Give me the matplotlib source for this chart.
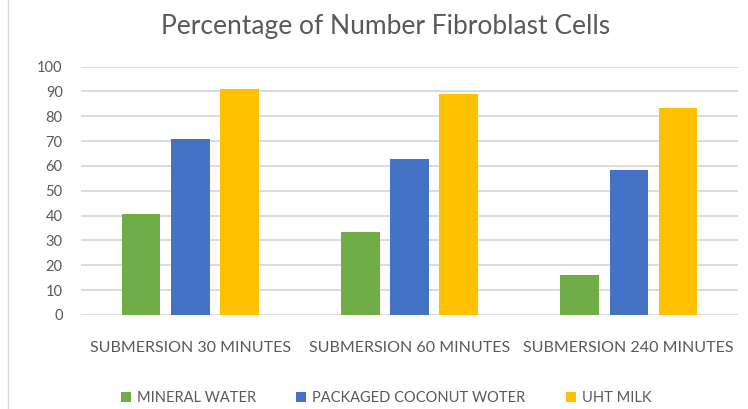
import matplotlib.pyplot as plt
import numpy as np

categories = ["SUBMERSION 30 MINUTES", "SUBMERSION 60 MINUTES", "SUBMERSION 240 MINUTES"]
series_names = ["MINERAL WATER", "PACKAGED COCONUT WOTER", "UHT MILK"]
mineral_water = [40.6, 33.5, 16.0]
coconut_water = [70.7, 62.9, 58.3]
uht_milk = [91.1, 89.0, 83.5]
colors = ["#70ad47", "#4472c4", "#ffc000"]

plt.rcParams['font.family'] = ['Lato', 'DejaVu Sans']
text_color = "#595959"

fig = plt.figure(figsize=(7.48, 4.09), dpi=100)
ax = fig.add_axes([0.108, 0.230, 0.879, 0.607])

x = np.arange(len(categories))
width = 0.175
step = 0.224
for i, (vals, name) in enumerate(zip([mineral_water, coconut_water, uht_milk], series_names)):
    ax.bar(x + (i - 1) * step, vals, width, color=colors[i], label=name, zorder=3)

ax.set_xlim(-0.5, 2.5)
ax.set_ylim(0, 100)
ax.set_yticks(np.arange(0, 101, 10))
ax.set_xticks(x)
ax.set_xticklabels(categories)
ax.grid(axis='y', color='#d9d9d9', linewidth=1.3, zorder=0)
for s in ax.spines.values():
    s.set_visible(False)
ax.tick_params(axis='both', length=0, colors=text_color)
ax.tick_params(axis='y', pad=13, labelsize=10.5)
ax.tick_params(axis='x', pad=19, labelsize=11.5)

fig.text(0.515, 0.935, "Percentage of Number Fibroblast Cells", ha='center', va='center',
         fontsize=19, color=text_color)

leg = fig.legend(loc='center', bbox_to_anchor=(0.516, 0.027), ncol=3, frameon=False,
                 fontsize=10.5, handlelength=0.7, handleheight=0.7, columnspacing=2.75,
                 handletextpad=0.4)
for t in leg.get_texts():
    t.set_color(text_color)

fig.add_artist(plt.Line2D([0.011, 0.011], [0, 1], color='#d9d9d9', linewidth=1))

fig.savefig("out.png", dpi=100)
